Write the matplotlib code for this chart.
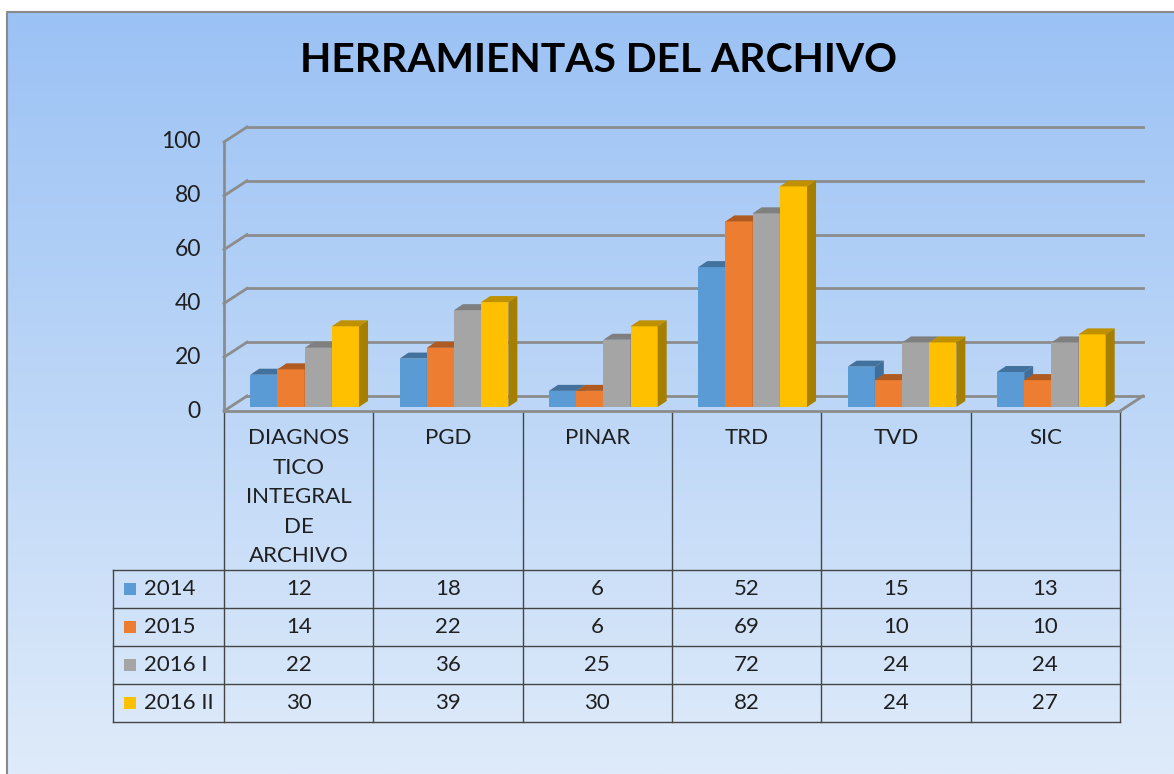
import numpy as np
import matplotlib.pyplot as plt
from matplotlib.patches import Polygon, Rectangle
from matplotlib.colors import LinearSegmentedColormap

plt.rcParams['font.family'] = ['Lato', 'DejaVu Sans']

# ---- data ----
categories = ['DIAGNOS\nTICO\nINTEGRAL\nDE\nARCHIVO', 'PGD', 'PINAR', 'TRD', 'TVD', 'SIC']
series = ['2014', '2015', '2016 I', '2016 II']
v2014 = [12, 18, 6, 52, 15, 13]
v2015 = [14, 22, 6, 69, 10, 10]
v2016_1 = [22, 36, 25, 72, 24, 24]
v2016_2 = [30, 39, 30, 82, 24, 27]
yticks = [0, 20, 40, 60, 80, 100]

values = [v2014, v2015, v2016_1, v2016_2]
front = ['#5b9bd5', '#ed7d31', '#a5a5a5', '#ffc000']
top = ['#41719c', '#ae5a21', '#7f7f7f', '#bf9000']
side = ['#3f6f9a', '#a9561e', '#7a7a7a', '#a67f00']

W, H = 1174, 774
fig = plt.figure(figsize=(W / 100, H / 100), dpi=100)

# background in pixel coords
bg = fig.add_axes([0, 0, 1, 1])
bg.set_xlim(0, W)
bg.set_ylim(H, 0)
bg.axis('off')
cmap = LinearSegmentedColormap.from_list('bgg', ['#9bc2f5', '#bcd6f7', '#dfebfa'])
grad = np.linspace(0, 1, 256).reshape(-1, 1)
bg.imshow(grad, cmap=cmap, aspect='auto', extent=[7, W, H, 12], zorder=0)
bg.plot([7, 7, W], [H, 12, 12], color='#8a8a8a', lw=1.5, zorder=1)

bg.text(598, 60, 'HERRAMIENTAS DEL ARCHIVO', ha='center', va='center',
        fontsize=29.3, fontweight='bold', color='black')

txt = '#1f1f1f'

# plot area geometry (pixels)
x0, x1 = 224, 1120
y0, y100 = 411, 142
ncat = len(categories)
colw = (x1 - x0) / ncat

ax = fig.add_axes([x0 / W, 1 - y0 / H, (x1 - x0) / W, (y0 - y100) / H])
ax.set_xlim(0, ncat)
ax.set_ylim(0, 100)
ax.axis('off')
ax.patch.set_alpha(0)

upp_x = ncat / (x1 - x0)        # data units per pixel
upp_y = 100 / (y0 - y100)
dx, dy = 23 * upp_x, 15 * upp_y      # full depth of the box
gc = '#8c8c8c'

# back wall gridlines + side wall
for g in yticks:
    ax.plot([dx, ncat + dx], [g + dy, g + dy], color=gc, lw=2, clip_on=False, zorder=1)
    ax.plot([0, dx], [g, g + dy], color=gc, lw=2, clip_on=False, zorder=1)
    ax.text(-23 * upp_x, g, str(g), ha='right', va='center', fontsize=16.5, color=txt)
ax.plot([0, 0], [0, 100], color=gc, lw=2, clip_on=False, zorder=1)
ax.plot([0, ncat], [0, 0], color=gc, lw=2, clip_on=False, zorder=1)
ax.plot([ncat, ncat + dx], [0, dy], color=gc, lw=2, clip_on=False, zorder=1)

# bars
bw = 0.182
shx, shy = 6 * upp_x, 4 * upp_y
bdx, bdy = 9 * upp_x, 6 * upp_y
x = np.arange(ncat)
for j, vals in enumerate(values):
    lefts = x + 0.5 - 2 * bw + j * bw + shx
    ax.bar(lefts, vals, width=bw, bottom=shy, align='edge', color=front[j],
           lw=0, zorder=3 + j * 3, clip_on=False)
    for xl, v in zip(lefts, vals):
        t = v + shy
        ax.add_patch(Polygon([(xl, t), (xl + bdx, t + bdy), (xl + bw + bdx, t + bdy), (xl + bw, t)],
                             closed=True, fc=top[j], ec='none', zorder=4 + j * 3, clip_on=False))
        ax.add_patch(Polygon([(xl + bw, shy), (xl + bw + bdx, shy + bdy), (xl + bw + bdx, t + bdy), (xl + bw, t)],
                             closed=True, fc=side[j], ec='none', zorder=4 + j * 3, clip_on=False))

# data table (pixel coords)
tc = '#454545'
hdr_bottom = 570
rh = 38
leg_left = 113
rows_y = [hdr_bottom + rh * k for k in range(len(series) + 1)]
for k in range(ncat + 1):
    xx = x0 + k * colw
    bg.plot([xx, xx], [y0, rows_y[-1]], color=tc, lw=1, zorder=2)
bg.plot([leg_left, leg_left], [hdr_bottom, rows_y[-1]], color=tc, lw=1, zorder=2)
for yy in rows_y:
    bg.plot([leg_left, x1], [yy, yy], color=tc, lw=1, zorder=2)

for k, cat in enumerate(categories):
    bg.text(x0 + (k + 0.5) * colw, 428, cat, ha='center', va='top', fontsize=16,
            color=txt, linespacing=1.6)

for r, (name, vals) in enumerate(zip(series, values)):
    yc = rows_y[r] + rh / 2
    bg.add_patch(Rectangle((124, yc - 6), 12, 12, fc=front[r], ec='none', zorder=3))
    bg.text(144, yc, name, ha='left', va='center', fontsize=16, color=txt)
    for k, v in enumerate(vals):
        bg.text(x0 + (k + 0.5) * colw, yc, str(v), ha='center', va='center',
                fontsize=16, color=txt)

fig.savefig('out.png', dpi=100)
